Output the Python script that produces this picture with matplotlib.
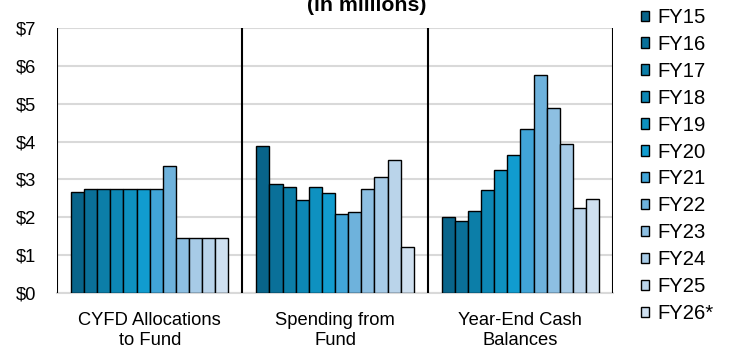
import numpy as np
import matplotlib.pyplot as plt
import matplotlib
from matplotlib.patches import Patch
matplotlib.rcParams['font.family'] = ['Liberation Sans', 'DejaVu Sans', 'sans-serif']

groups = ['CYFD Allocations\nto Fund', 'Spending from\nFund', 'Year-End Cash\nBalances']
years = ['FY15', 'FY16', 'FY17', 'FY18', 'FY19', 'FY20', 'FY21', 'FY22',
         'FY23', 'FY24', 'FY25', 'FY26*']

# values in $ millions, one list per group (FY15 .. FY26*)
allocations = [2.67, 2.74, 2.74, 2.74, 2.74, 2.74, 2.74, 3.36, 1.44, 1.44, 1.44, 1.44]
spending = [3.89, 2.87, 2.80, 2.45, 2.80, 2.63, 2.09, 2.14, 2.74, 3.07, 3.51, 1.21]
balances = [2.01, 1.91, 2.16, 2.71, 3.25, 3.65, 4.32, 5.76, 4.88, 3.93, 2.24, 2.49]

colors = ['#08648a', '#0a7099', '#0c7ea8', '#0d87b5', '#0e91c0', '#119ccf',
          '#41a5d8', '#6eb2dc', '#8dbfe2', '#a7cbe7', '#bad4ea', '#cfe0f0']

data = np.array([allocations, spending, balances])

fig = plt.figure(figsize=(7.29, 3.52), dpi=100)
ax = fig.add_axes([0.0782, 0.1676, 0.841 - 0.0782, 0.9205 - 0.1676])

n = len(years)
width = 0.85 / n
x = np.arange(len(groups)) + 0.5
for i in range(n):
    ax.bar(x - 0.425 + width * (i + 0.5), data[:, i], width,
           color=colors[i], edgecolor='black', linewidth=1.0, zorder=3)

# vertical separators between the groups
for sep in range(len(groups) + 1):
    ax.axvline(sep, color='black', linewidth=1.5, zorder=4)

ax.set_xlim(0, 3)
ax.set_ylim(0, 7)
ax.set_yticks(range(8))
ax.set_yticklabels([f'${v}' for v in range(8)], fontsize=13.2)
ax.set_xticks(x)
ax.set_xticklabels(groups, fontsize=13.2, linespacing=1.17)
ax.tick_params(axis='x', length=0, pad=14)
ax.tick_params(axis='y', length=0, pad=15)
ax.grid(axis='y', color='#d9d9d9', linewidth=1.5, zorder=0)
for s in ['top', 'left', 'right']:
    ax.spines[s].set_visible(False)
ax.spines['bottom'].set_color('#d9d9d9')
ax.spines['bottom'].set_linewidth(1.5)

fig.text(0.503, 1 - 11 / 352, '(in millions)', ha='center', va='baseline',
         fontsize=15.3, fontweight='bold')

handles = [Patch(facecolor=c, edgecolor='black', linewidth=1.0) for c in colors]
fig.legend(handles, years, loc='upper left', bbox_to_anchor=(0.879, 1 - 8 / 352),
           frameon=False, fontsize=14.6, handlelength=0.42, handleheight=0.42,
           handletextpad=0.38, labelspacing=0.39, borderpad=0.0, borderaxespad=0)

plt.savefig('out.png', dpi=100)
plt.close()
